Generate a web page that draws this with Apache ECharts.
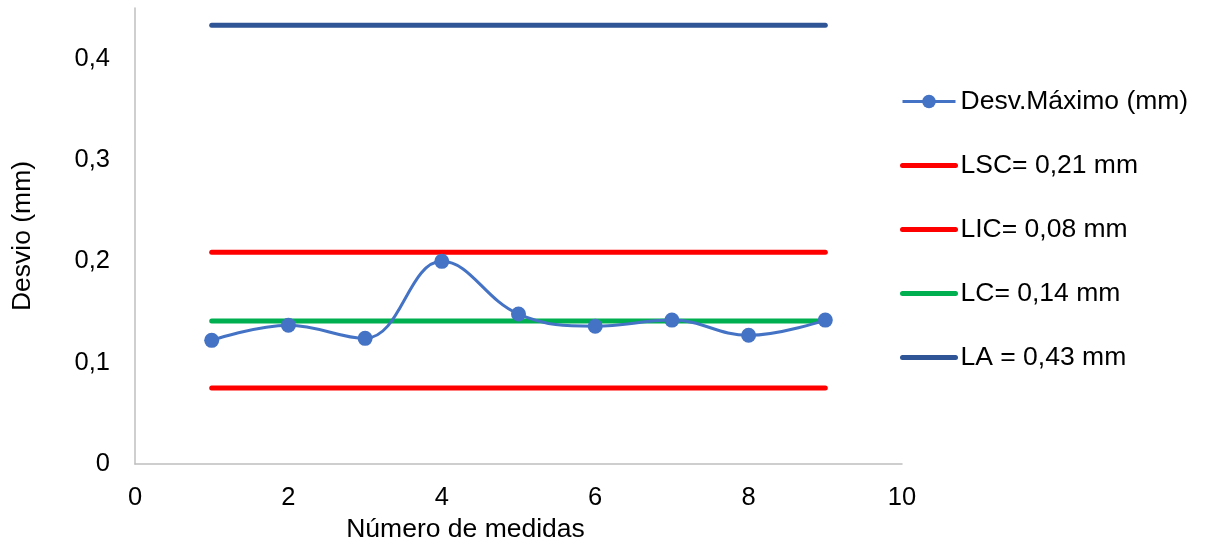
<!DOCTYPE html>
<html><head><meta charset="utf-8">
<script src="https://cdn.jsdelivr.net/npm/echarts@6/dist/echarts.min.js"></script>
<style>html,body{margin:0;padding:0;background:#fff}#c{width:1209px;height:541px}</style>
</head><body><div id="c"></div>
<script>
const medidas = [1,2,3,4,5,6,7,8,9];
const desvMax = [0.122,0.137,0.124,0.200,0.148,0.136,0.142,0.127,0.142];
const limX = [1,9];
const LSC = 0.209, LIC = 0.075, LC = 0.141, LA = 0.433;
const names = ['Desv.Máximo (mm)','LSC= 0,21 mm','LIC= 0,08 mm','LC= 0,14 mm','LA = 0,43 mm'];
const font = 'Liberation Sans, Arial, sans-serif';
function limLine(name, v, color){
  return {name, type:'line', data: limX.map(x=>[x,v]), symbol:'none', lineStyle:{color, width:5, cap:'round'}, itemStyle:{color}, z:1};
}
const chart = echarts.init(document.getElementById('c'));
chart.setOption({
  animation:false,
  grid:{left:135, top:8, right:307, bottom:77, containLabel:false, outerBoundsMode:'none'},
  xAxis:{type:'value', min:0, max:10, interval:2, name:'Número de medidas', nameLocation:'middle', nameGap:50,
    nameTextStyle:{fontFamily:font, fontSize:26.5, color:'#000', padding:[0,106,0,0]},
    axisLine:{lineStyle:{color:'#BFBFBF', width:1.5}}, axisTick:{show:false}, splitLine:{show:false},
    axisLabel:{fontFamily:font, fontSize:25.5, color:'#000', margin:21}},
  yAxis:{type:'value', min:0, max:0.45, interval:0.1, name:'Desvio (mm)', nameLocation:'middle', nameGap:99,
    nameTextStyle:{fontFamily:font, fontSize:26.5, color:'#000'},
    axisLine:{show:true, lineStyle:{color:'#BFBFBF', width:1.5}}, axisTick:{show:false}, splitLine:{show:false},
    axisLabel:{fontFamily:font, fontSize:25.5, color:'#000', margin:25, showMaxLabel:false,
      formatter:v=> (Math.abs(v*10 - Math.round(v*10))>1e-6) ? '' : (v===0?'0':v.toFixed(1).replace('.',','))}},
  legend:{orient:'vertical', left:895, top:83, itemGap:37, itemWidth:53, itemHeight:17,
    lineStyle:{width:'inherit'},
    textStyle:{fontFamily:font, fontSize:26.5, color:'#000', padding:[0,0,0,0]},
    data:[
      {name:names[0]},
      {name:names[1], itemStyle:{opacity:0}},
      {name:names[2], itemStyle:{opacity:0}},
      {name:names[3], itemStyle:{opacity:0}},
      {name:names[4], itemStyle:{opacity:0}}
    ]},
  series:[
    limLine(names[1], LSC, '#FF0000'),
    limLine(names[2], LIC, '#FF0000'),
    limLine(names[3], LC, '#00B050'),
    limLine(names[4], LA, '#2F5597'),
    {name:names[0], type:'line', data: medidas.map((x,i)=>[x,desvMax[i]]), smooth:0.4,
     symbol:'circle', symbolSize:15, lineStyle:{color:'#4472C4', width:3}, itemStyle:{color:'#4472C4'}, z:5}
  ]
});
</script></body></html>
